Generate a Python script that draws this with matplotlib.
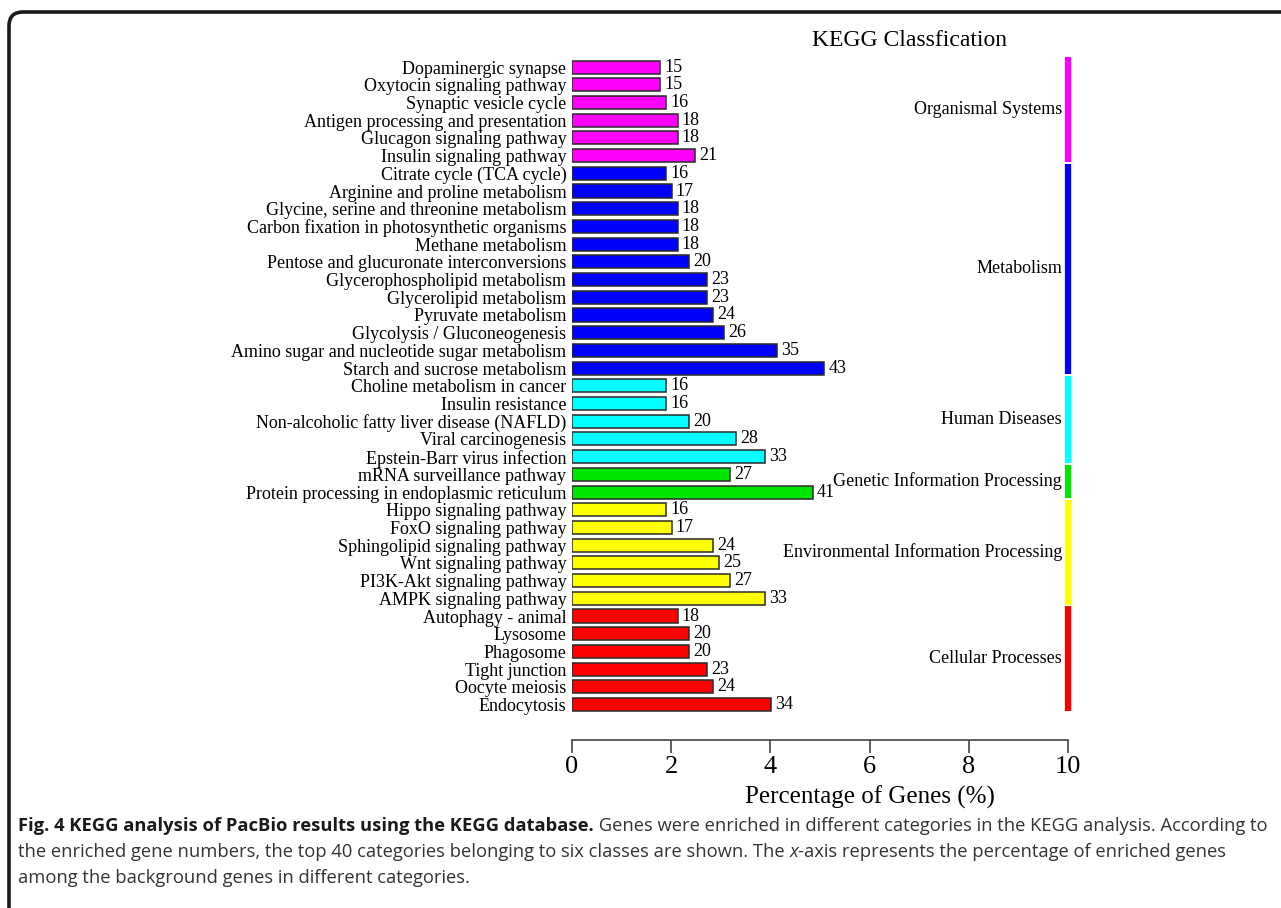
import matplotlib.pyplot as plt
from matplotlib.path import Path
from matplotlib.patches import PathPatch

# ---- data ----
classes = [
    "Organismal Systems",
    "Metabolism",
    "Human Diseases",
    "Genetic Information Processing",
    "Environmental Information Processing",
    "Cellular Processes",
]
class_colors = ["#ff00ff", "#0000ff", "#00ffff", "#00e600", "#ffff00", "#ff0000"]

pathways = [
    "Dopaminergic synapse", "Oxytocin signaling pathway", "Synaptic vesicle cycle",
    "Antigen processing and presentation", "Glucagon signaling pathway",
    "Insulin signaling pathway",
    "Citrate cycle (TCA cycle)", "Arginine and proline metabolism",
    "Glycine, serine and threonine metabolism",
    "Carbon fixation in photosynthetic organisms", "Methane metabolism",
    "Pentose and glucuronate interconversions", "Glycerophospholipid metabolism",
    "Glycerolipid metabolism", "Pyruvate metabolism", "Glycolysis / Gluconeogenesis",
    "Amino sugar and nucleotide sugar metabolism", "Starch and sucrose metabolism",
    "Choline metabolism in cancer", "Insulin resistance",
    "Non-alcoholic fatty liver disease (NAFLD)", "Viral carcinogenesis",
    "Epstein-Barr virus infection",
    "mRNA surveillance pathway", "Protein processing in endoplasmic reticulum",
    "Hippo signaling pathway", "FoxO signaling pathway",
    "Sphingolipid signaling pathway", "Wnt signaling pathway",
    "PI3K-Akt signaling pathway", "AMPK signaling pathway",
    "Autophagy - animal", "Lysosome", "Phagosome", "Tight junction",
    "Oocyte meiosis", "Endocytosis",
]
gene_counts = [
    15, 15, 16, 18, 18, 21,
    16, 17, 18, 18, 18, 20, 23, 23, 24, 26, 35, 43,
    16, 16, 20, 28, 33,
    27, 41,
    16, 17, 24, 25, 27, 33,
    18, 20, 20, 23, 24, 34,
]
gene_pct = [
    1.77, 1.77, 1.89, 2.13, 2.13, 2.48,
    1.89, 2.01, 2.13, 2.13, 2.13, 2.36, 2.72, 2.72, 2.84, 3.07, 4.14, 5.08,
    1.89, 1.89, 2.36, 3.31, 3.90,
    3.19, 4.85,
    1.89, 2.01, 2.84, 2.96, 3.19, 3.90,
    2.13, 2.36, 2.36, 2.72, 2.84, 4.02,
]
pathway_class = (
    [0] * 6 + [1] * 12 + [2] * 5 + [3] * 2 + [4] * 6 + [5] * 6
)

caption_bold = "Fig. 4 KEGG analysis of PacBio results using the KEGG database."
caption_lines = [
    [(caption_bold, "bold", "normal"),
     (" Genes were enriched in different categories in the KEGG analysis. According to",
      "normal", "normal")],
    [("the enriched gene numbers, the top 40 categories belonging to six classes are shown. The ",
      "normal", "normal"),
     ("x", "normal", "italic"),
     ("-axis represents the percentage of enriched genes", "normal", "normal")],
    [("among the background genes in different categories.", "normal", "normal")],
]

W, H = 1281, 908
serif = ["Liberation Serif", "DejaVu Serif"]
cap_font = ["Liberation Sans Narrow", "Open Sans", "DejaVu Sans"]

fig = plt.figure(figsize=(W / 100, H / 100), dpi=100)

# rounded frame around the figure panel (runs off right/bottom edge)
r = 14
verts = [(9, 0), (9, H - 12 - r), (9, H - 12), (9 + r, H - 12), (W + 5, H - 12)]
codes = [Path.MOVETO, Path.LINETO, Path.CURVE3, Path.CURVE3, Path.LINETO]
fig.patches.append(PathPatch(Path(verts, codes), transform=None, fill=False,
                             lw=2.6, edgecolor="#1a1a1a"))

ax = fig.add_axes([572 / W, 1 - 740 / H, (1068 - 572) / W, (740 - 52) / H])
rows = list(range(len(pathways)))
colors = [class_colors[c] for c in pathway_class]
ax.barh(rows, gene_pct, height=0.74, color=colors, edgecolor="#2a2a2a", linewidth=1.1)
for y, v, n in zip(rows, gene_pct, gene_counts):
    ax.annotate(str(n), (v, y), xytext=(3, 0), textcoords="offset points",
                va="center", ha="left", fontsize=13, family=serif)

# class bars at x = 10 with class names
for ci, name in enumerate(classes):
    idx = [i for i, c in enumerate(pathway_class) if c == ci]
    y0, y1 = idx[0] - 0.55, idx[-1] + 0.35
    ax.plot([10, 10], [y0, y1], color=class_colors[ci], lw=4.5,
            solid_capstyle="butt", clip_on=False)
    ax.text(9.88, (y0 + y1) / 2, name, ha="right", va="center",
            fontsize=13, family=serif)

ax.set_xlim(0, 10)
ax.set_ylim(38.0, -0.85)
ax.set_yticks(rows)
ax.set_yticklabels(pathways, fontsize=13, family=serif)
ax.tick_params(axis="y", length=0, pad=4)
ax.set_xticks([0, 2, 4, 6, 8, 10])
ax.tick_params(axis="x", length=9.5, width=1.2, color="#444444", pad=2,
               labelsize=19)
for lab in ax.get_xticklabels():
    lab.set_family(serif)
for s in ["top", "right", "left"]:
    ax.spines[s].set_visible(False)
ax.spines["bottom"].set_color("#444444")
ax.spines["bottom"].set_linewidth(1.2)
ax.set_xlabel("Percentage of Genes (%)", fontsize=18, family=serif)
ax.xaxis.set_label_coords(0.6, -0.066)

fig.text(910 / W, 1 - 40 / H, "KEGG Classfication", ha="center", va="center",
         fontsize=17, family=serif)

# caption, fitted to the panel width
renderer = fig.canvas.get_renderer()


def draw_runs(x_px, y_px, runs, size):
    out = []
    x = x_px
    for txt, weight, style in runs:
        t = fig.text(x / W, 1 - y_px / H, txt, fontsize=size, weight=weight,
                     style=style, family=cap_font,
                     color="#1a1a1a" if weight == "bold" else "#333333",
                     ha="left", va="center")
        bb = t.get_window_extent(renderer)
        x = bb.x1
        out.append(t)
    return out, x


size = 13
tmp, right = draw_runs(18, 826, caption_lines[0], size)
for t in tmp:
    t.remove()
size = size * (1263 - 18) / (right - 18)
for k, runs in enumerate(caption_lines):
    draw_runs(18, 826 + 26 * k, runs, size)

fig.savefig("out.png", dpi=100)
